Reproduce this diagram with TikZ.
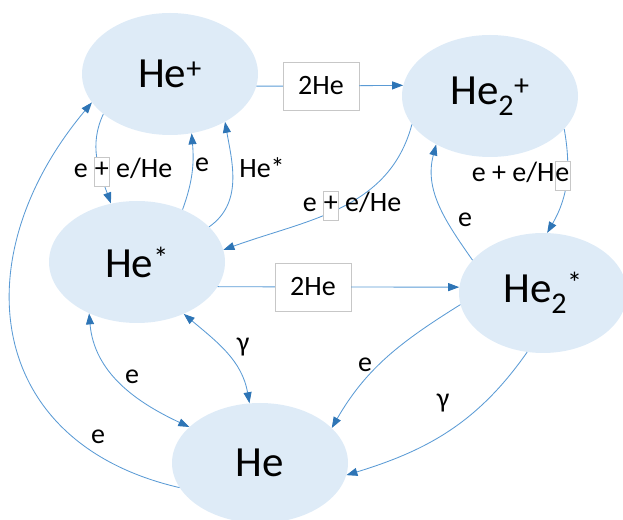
\documentclass[tikz,border=0pt]{standalone}
\usepackage{fontspec}
\setmainfont{Carlito}
\usepackage{tikz}
\usetikzlibrary{shapes.geometric,arrows.meta}

\definecolor{heblue}{RGB}{222,235,247}
\definecolor{linkblue}{RGB}{91,155,213}
\definecolor{tipblue}{RGB}{46,117,182}
\newcommand{\wbox}[1]{{\setlength{\fboxsep}{0.5pt}\fcolorbox{black!22}{white}{\strut#1}}}

\begin{document}
\begin{tikzpicture}[x=1pt, y=1pt,
    >={Triangle[length=11pt,width=8pt,color=tipblue]},
    state/.style={ellipse, fill=heblue, inner sep=0pt, minimum width=176pt, minimum height=122pt,
      font=\fontsize{43}{46}\selectfont},
    ratebox/.style={draw=black!22, fill=white, minimum width=76pt, minimum height=48pt,
      font=\fontsize{28}{28}\selectfont},
    link/.style={draw=linkblue, line width=0.85pt, ->},
    lab/.style={inner sep=0pt, font=\fontsize{28}{28}\selectfont}]
      \useasboundingbox (0,0) rectangle (623,519);
      \node[state] (hep) at (170,445) {He\textsuperscript{+}};
      \node[state] (hetwop) at (490,423) {He\textsubscript{2}\textsuperscript{+}};
      \node[state] (hes) at (137,257) {He\textsuperscript{*}};
      \node[state, minimum width=168pt, minimum height=120pt] (hetwos) at (543,226) {He\textsubscript{2}\textsuperscript{*}};
      \node[state, minimum height=120pt] (he) at (260,56) {He};
      \node[ratebox] (box1) at (321,433) {2He};
      \node[ratebox] (box2) at (313,232) {2He};
      \draw[link, -] (hep.-8) -- (box1);
      \draw[link] (box1) -- (hetwop.173);
      \draw[link, -] (hes.-17) -- (box2);
      \draw[link] (box2) -- (hetwos.176);
      \draw[link] (hep.211) to[out=245, in=110] (hes.114);
      \draw[link] (hes.49) to[out=70, in=-85] (hep.290);
      \draw[link] (hes.26) to[out=35, in=280] (hep.319);
      \draw[link] (hetwop.200) to[out=255, in=20] (hes.8);
      \draw[link] (hetwop.336) to[out=-80, in=60] (hetwos.86);
      \draw[link] (hetwos.155) to[out=125, in=255] (hetwop.222);
      \draw[link, <->] (hes.227) to[out=-85, in=155] (he.153);
      \draw[link, <->] (hes.-48) to[out=-40, in=100] (he.100);
      \draw[link] (he.197) to[out=167, in=230, looseness=1.3] (hep.200);
      \draw[link] (hetwos.188) to[out=212, in=60] (he.26);
      \draw[link] (hetwos.255) to[out=235, in=17] (he.-8);
      \node[lab] (l1) at (123,347) {e \wbox{+} e/He};
      \node[lab] (l2) at (202,354) {e};
      \node[lab] (l3) at (262,351) {He*};
      \node[lab] (l4) at (352,313) {e \wbox{+} e/He};
      \node[lab] (l5) at (521,343) {e + e/H\wbox{e}};
      \node[lab] (l6) at (465,299) {e};
      \node[lab] (l7) at (132,142) {e};
      \node[lab] (l8) at (243,172) {γ};
      \node[lab] (l9) at (98,82) {e};
      \node[lab] (l10) at (365,154) {e};
      \node[lab] (l11) at (443,116) {γ};
    \end{tikzpicture}
\end{document}
